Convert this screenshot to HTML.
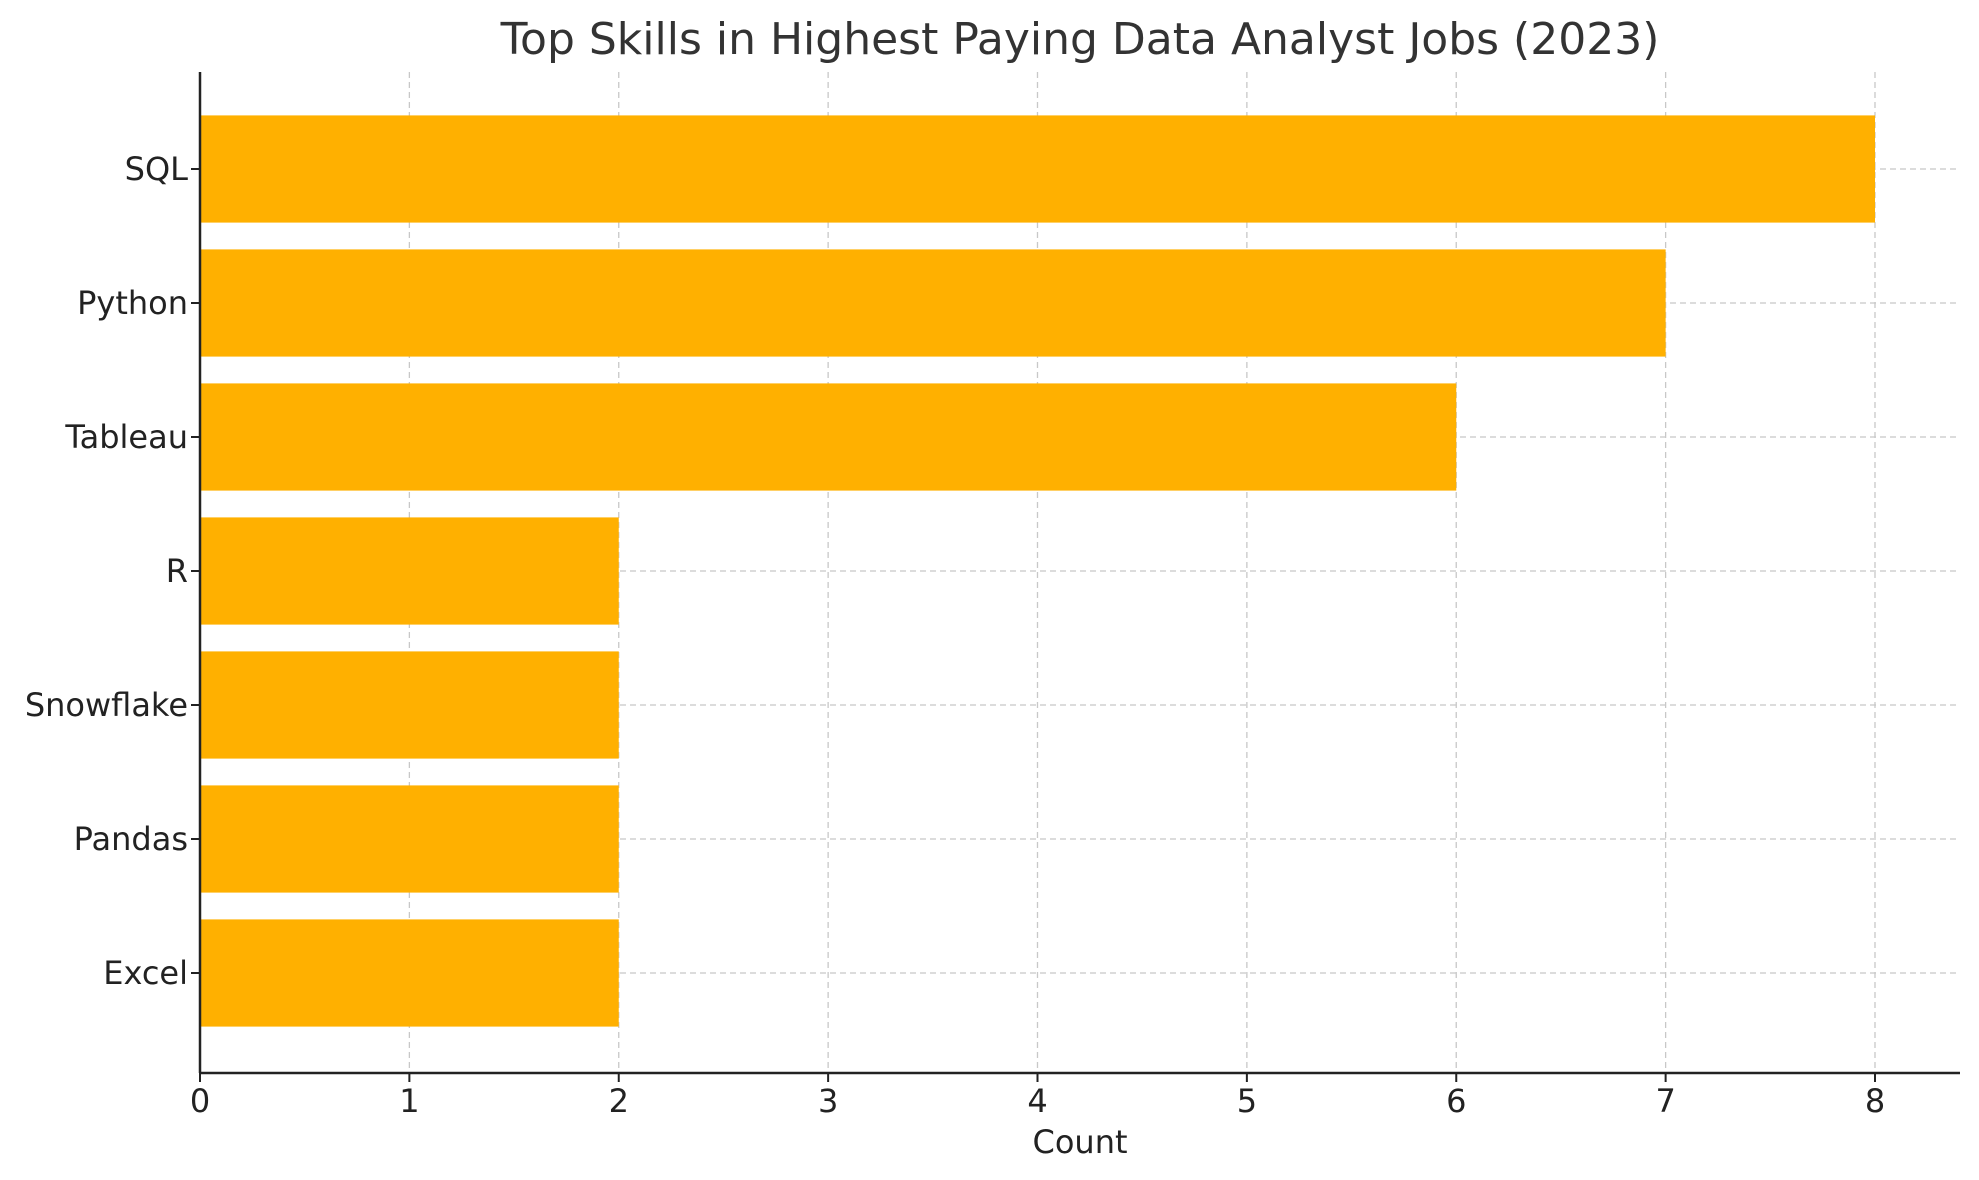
<!DOCTYPE html>
<html><head><meta charset="utf-8"><style>
html,body{margin:0;padding:0;background:#fff;}
svg{display:block;font-family:"DejaVu Sans","Liberation Sans",sans-serif;}
</style></head><body>
<svg id="chart" width="1979" height="1180" viewBox="0 0 1979 1180">
<text x="1080" y="54" text-anchor="middle" font-size="44" fill="#333">Top Skills in Highest Paying Data Analyst Jobs (2023)</text>
<g id="grid"></g><g id="bars"></g><g id="axes"></g>
<text x="1080" y="1153" text-anchor="middle" font-size="32" fill="#222">Count</text>
</svg>
<script>
const skills = ["SQL","Python","Tableau","R","Snowflake","Pandas","Excel"];
const counts = [8,7,6,2,2,2,2];
const xTicks = [0,1,2,3,4,5,6,7,8];
const NS="http://www.w3.org/2000/svg";
const L=200, R=1960, T=72, B=1073;
const x0=200, x8=1875;
const xs=v=>x0+(x8-x0)*v/8;
const step=134, firstC=169;
const ys=i=>firstC+i*step;
const bh=step*0.8;
function mk(tag,attrs,parent){const e=document.createElementNS(NS,tag);for(const k in attrs)e.setAttribute(k,attrs[k]);document.getElementById(parent).appendChild(e);return e;}
xTicks.forEach(t=>{
 const g=mk('line',{x1:xs(t),x2:xs(t),y1:T,y2:B,stroke:'#c8c8c8','stroke-width':1.3,'stroke-dasharray':'6,4'},'grid');
 
 
 const tk=mk('line',{x1:xs(t),x2:xs(t),y1:B,y2:B+9,stroke:'#222','stroke-width':2},'axes');
 
 
 const tl=mk('text',{x:xs(t),y:B+39,'text-anchor':'middle','font-size':32,fill:'#222'},'axes');
 tl.textContent=t;
 
 
});
skills.forEach((s,i)=>{
 const g=mk('line',{x1:L,x2:R,y1:ys(i),y2:ys(i),stroke:'#c8c8c8','stroke-width':1.3,'stroke-dasharray':'6,4'},'grid');
 
 
 const b=mk('rect',{x:xs(0),y:ys(i)-bh/2,width:xs(counts[i])-xs(0),height:bh,fill:'#ffb000'},'bars');
 
 
 const tk=mk('line',{x1:L-9,x2:L,y1:ys(i),y2:ys(i),stroke:'#222','stroke-width':2},'axes');
 
 
 const tl=mk('text',{x:L-12,y:ys(i)+11,'text-anchor':'end','font-size':32,fill:'#222'},'axes');
 tl.textContent=s;
 
 
});
const ya=mk('line',{x1:L,x2:L,y1:T,y2:B,stroke:'#222','stroke-width':2.5},'axes');


const xa=mk('line',{x1:L-1,x2:R,y1:B,y2:B,stroke:'#222','stroke-width':2.5},'axes');


</script>
</body></html>
